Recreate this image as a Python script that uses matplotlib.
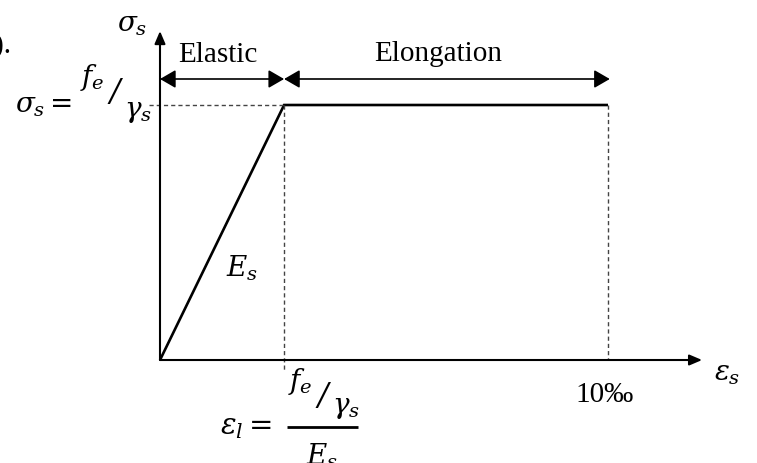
import matplotlib
matplotlib.use("Agg")
import matplotlib.pyplot as plt

# Idealised elastic–perfectly-plastic steel law (strain in per mille, stress normalised to fe/γs)
strain = [0.0, 2.77, 10.0]
stress = [0.0, 1.0, 1.0]
eps_yield = strain[1]
eps_ult = strain[2]
f_yield = stress[1]

region_labels = ["Elastic", "Elongation"]
ult_label = "10‰"

plt.rcParams["mathtext.fontset"] = "dejavuserif"
serif = ["Liberation Serif", "DejaVu Serif"]
MS = 20   # math label size
TS = 21   # plain text size

fig = plt.figure(figsize=(7.57, 4.63), dpi=100)
ax = fig.add_axes([0, 0, 1, 1])
ax.set_xlim(-3.5714, 13.3259)
ax.set_ylim(-0.4039, 1.4118)
ax.axis("off")

k = "black"
dash_col = "#444444"

# axes with arrow heads
axis_style = dict(arrowstyle="-|>,head_length=0.75,head_width=0.32",
                  mutation_scale=10, lw=1.5, color=k, shrinkA=0, shrinkB=0)
ax.annotate("", xy=(12.1, 0), xytext=(0, 0), arrowprops=axis_style)
ax.annotate("", xy=(0, 1.29), xytext=(0, 0), arrowprops=axis_style)

# constitutive curve
ax.plot(strain, stress, color=k, lw=1.9, solid_joinstyle="miter", solid_capstyle="butt")

# dashed guides
dash = dict(ls=(0, (3, 2.2)), color=dash_col, lw=1.0)
ax.plot([-0.25, eps_yield], [f_yield, f_yield], **dash)
ax.plot([eps_yield, eps_yield], [f_yield, -0.047], **dash)
ax.plot([eps_ult, eps_ult], [f_yield, 0], **dash)

# dimension arrows for the two regions
dim_y = 1.102
dim_style = dict(arrowstyle="<|-|>,head_length=0.95,head_width=0.55",
                 mutation_scale=10, lw=1.2, color=k, shrinkA=0, shrinkB=0)
ax.annotate("", xy=(eps_yield, dim_y), xytext=(0, dim_y), arrowprops=dim_style)
ax.annotate("", xy=(eps_ult + 0.04, dim_y), xytext=(eps_yield, dim_y), arrowprops=dim_style)

ax.text(1.29, 1.170, region_labels[0], family=serif, fontsize=TS, ha="center", va="baseline")
ax.text(6.2, 1.173, region_labels[1], family=serif, fontsize=TS, ha="center", va="baseline")
ax.text(-3.7, 1.204, ").", family=serif, fontsize=TS, ha="left", va="baseline")

# axis titles
ax.text(-0.62, 1.318, r"$\sigma_s$", fontsize=MS, ha="center", va="center")
ax.text(12.66, -0.05, r"$\varepsilon_s$", fontsize=MS, ha="center", va="center")


def slash_fraction(x_left, y_base, size, drop):
    """Write f_e / γ_s as an inline slanted fraction starting at x_left."""
    ax.text(x_left, y_base, r"$f_e$", fontsize=size, ha="left", va="baseline")
    ax.text(x_left + 0.78, y_base - 0.03, "/", family="DejaVu Serif", style="italic",
            fontsize=size * 1.12, ha="center", va="center")
    ax.text(x_left + 0.98, y_base - drop, r"$\gamma_s$", fontsize=size, ha="left", va="baseline")


# yield stress label
ax.text(-1.96, 0.969, r"$\sigma_s =$", fontsize=MS, ha="right", va="baseline")
slash_fraction(-1.79, 1.078, MS, 0.125)

# modulus label on the elastic branch
ax.text(1.82, 0.36, r"$E_s$", fontsize=MS, ha="center", va="center")

# ultimate strain tick label
ax.text(eps_ult - 0.07, -0.163, ult_label, family=serif, fontsize=TS, ha="center", va="baseline")

# yield strain expression
ax.text(2.5, -0.263, r"$\varepsilon_l =$", fontsize=MS + 1, ha="right", va="center")
ax.plot([2.835, 4.42], [-0.261, -0.261], color=k, lw=2.0, solid_capstyle="butt")
slash_fraction(2.86, -0.115, MS, 0.092)
ax.text(3.62, -0.318, r"$E_s$", fontsize=MS, ha="center", va="top")

fig.savefig("out.png", dpi=100)
